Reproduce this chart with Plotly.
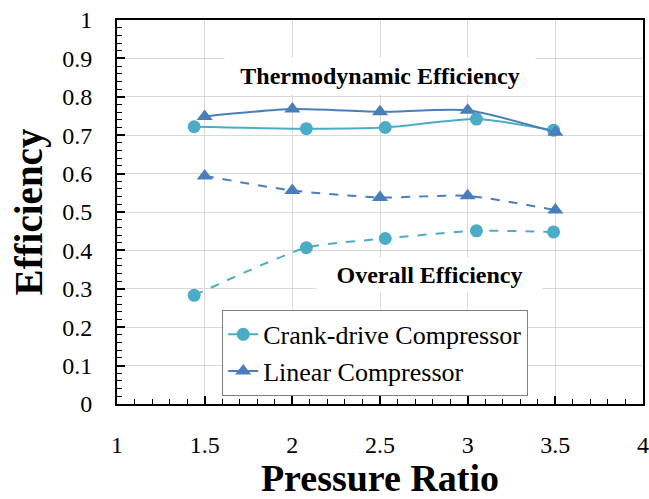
import plotly.graph_objects as go

# Data
pressure_crank = [1.44, 2.08, 2.53, 3.05, 3.49]
crank_thermo = [0.722, 0.717, 0.720, 0.742, 0.713]
crank_overall = [0.283, 0.407, 0.431, 0.451, 0.448]
pressure_linear = [1.5, 2.0, 2.5, 3.0, 3.5]
linear_thermo = [0.749, 0.768, 0.761, 0.765, 0.708]
linear_overall = [0.594, 0.556, 0.538, 0.542, 0.505]

x_ticks = [1, 1.5, 2, 2.5, 3, 3.5, 4]
x_ticklabels = ["1", "1.5", "2", "2.5", "3", "3.5", "4"]
y_ticks = [0, 0.1, 0.2, 0.3, 0.4, 0.5, 0.6, 0.7, 0.8, 0.9, 1]
y_ticklabels = ["0", "0.1", "0.2", "0.3", "0.4", "0.5", "0.6", "0.7", "0.8", "0.9", "1"]

CRANK = "#4BACC6"
LINEAR = "#4A7EBB"
SERIF = "Liberation Serif"

fig = go.Figure()
fig.add_trace(go.Scatter(
    x=pressure_crank, y=crank_thermo, mode="lines+markers",
    name="Crank-drive Compressor",
    line=dict(color=CRANK, width=2, shape="spline", smoothing=0.6),
    marker=dict(symbol="circle", size=13, color=CRANK)))
fig.add_trace(go.Scatter(
    x=pressure_linear, y=linear_thermo, mode="lines+markers",
    name="Linear Compressor",
    line=dict(color=LINEAR, width=2, shape="spline", smoothing=0.6),
    marker=dict(symbol="triangle-up", size=14, color=LINEAR)))
fig.add_trace(go.Scatter(
    x=pressure_crank, y=crank_overall, mode="lines+markers",
    showlegend=False,
    line=dict(color=CRANK, width=2, dash="dash", shape="spline", smoothing=0.6),
    marker=dict(symbol="circle", size=13, color=CRANK)))
fig.add_trace(go.Scatter(
    x=pressure_linear, y=linear_overall, mode="lines+markers",
    showlegend=False,
    line=dict(color=LINEAR, width=2, dash="dash", shape="spline", smoothing=0.6),
    marker=dict(symbol="triangle-up", size=14, color=LINEAR)))

fig.add_annotation(x=2.5, y=0.855, xref="x", yref="y", text="<b>Thermodynamic Efficiency</b>",
                   showarrow=False, font=dict(family=SERIF, size=24, color="black"),
                   bgcolor="white", width=310, height=36, borderpad=0)
fig.add_annotation(x=2.78, y=0.337, xref="x", yref="y", text="<b>Overall Efficiency</b>",
                   showarrow=False, font=dict(family=SERIF, size=24, color="black"),
                   bgcolor="white", width=225, height=34, borderpad=0)

fig.update_layout(
    width=649, height=499,
    margin=dict(l=117, r=6, t=20, b=95),
    paper_bgcolor="white", plot_bgcolor="white",
    font=dict(family=SERIF, size=24, color="black"),
    legend=dict(x=0.2, y=0.245, xanchor="left", yanchor="top",
                bgcolor="white", bordercolor="#7F7F7F", borderwidth=1,
                font=dict(family=SERIF, size=26, color="black"),
                tracegroupgap=0),
    xaxis=dict(range=[1, 4], tickmode="array", tickvals=x_ticks, ticktext=x_ticklabels,
               showgrid=True, gridcolor="#D9D9D9", gridwidth=1,
               showline=True, linecolor="black", linewidth=2, mirror=True,
               ticks="inside", ticklen=8, tickwidth=1.5, tickcolor="black",
               minor=dict(dtick=0.1, ticks="inside", ticklen=5, tickwidth=1.2, tickcolor="black", showgrid=False),
               zeroline=False, ticklabelstandoff=18, automargin=False,
               tickfont=dict(family=SERIF, size=24),
               title=dict(text="<b>Pressure Ratio</b>", font=dict(family=SERIF, size=38), standoff=8)),
    yaxis=dict(range=[0, 1], tickmode="array", tickvals=y_ticks, ticktext=y_ticklabels,
               showgrid=True, gridcolor="#D9D9D9", gridwidth=1,
               showline=True, linecolor="black", linewidth=2, mirror=True,
               ticks="inside", ticklen=8, tickwidth=1.5, tickcolor="black",
               minor=dict(dtick=0.02, ticks="inside", ticklen=5, tickwidth=1.2, tickcolor="black", showgrid=False),
               zeroline=False, ticklabelstandoff=18, automargin=False,
               tickfont=dict(family=SERIF, size=24),
               title=dict(text="<b>Efficiency</b>", font=dict(family=SERIF, size=39), standoff=8)),
)

fig.write_html("out.html")
